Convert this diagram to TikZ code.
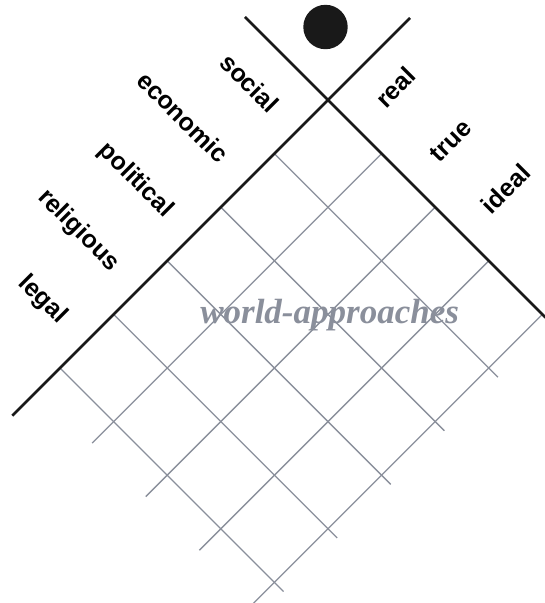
\documentclass[tikz,border=0pt]{standalone}
\usepackage{fontspec}
\setmainfont{Liberation Serif}
\setsansfont{Liberation Sans}
\usetikzlibrary{positioning}
\definecolor{gridgray}{RGB}{138,143,155}

\begin{document}
\begin{tikzpicture}[x=1pt,y=1pt,
  mainline/.style={line width=2.6pt, black!90},
  gridline/.style={line width=1.3pt, gridgray},
  rowlabel/.style={font=\sffamily\bfseries\fontsize{25}{30}\selectfont,
                   rotate=-45, anchor=mid east, inner sep=0pt},
  collabel/.style={font=\sffamily\bfseries\fontsize{25}{30}\selectfont,
                   rotate=45, anchor=mid west, inner sep=0pt},
  stamp/.style={font=\rmfamily\bfseries\itshape\fontsize{35}{40}\selectfont,
                text=gridgray, inner sep=0pt}]

\useasboundingbox (0,0) rectangle (545,-603);

%---------------------------------------
% Cell size (along each diagonal)
%---------------------------------------
\def\cell{53.6}
\def\Umax{4.17}
\def\Vmax{5.4}

% Dot on top
\fill[black!90] (325.5,-27) circle (22.2);

%====================================================
% Diagonal frame: u runs down-right, v runs down-left
%====================================================
\begin{scope}[shift={(328,-100)},
              x={(\cell pt,-\cell pt)}, y={(-\cell pt,-\cell pt)}]

  % Grid
  \foreach \v in {1,...,5}
    \draw[gridline] (0,\v) -- (\Umax,\v);
  \foreach \u in {1,...,4}
    \draw[gridline] (\u,0) -- (\u,\Vmax);

  % The two axes
  \draw[mainline] (-1.55,0) -- (4.06,0);
  \draw[mainline] (0,-1.53) -- (0,5.89);

  % Row labels (left of the v axis)
  \node[rowlabel] (social)    at (-0.42,0.66) {social};
  \node[rowlabel] (economic)  at (-0.42,1.6) {economic};
  \node[rowlabel] (political) at (-0.42,2.6) {political};
  \node[rowlabel] (religious) at (-0.42,3.6) {religious};
  \node[rowlabel] (legal)     at (-0.42,4.58) {legal};

  % Column labels (right of the u axis)
  \node[collabel] (real)  at (0.6,-0.45) {real};
  \node[collabel] (true)  at (1.6,-0.45) {true};
  \node[collabel] (ideal) at (2.57,-0.45) {ideal};

  % Stamp across the grid
  \node[stamp] (world) at (2.02,1.99) {world-approaches};
\end{scope}

\end{tikzpicture}
\end{document}
